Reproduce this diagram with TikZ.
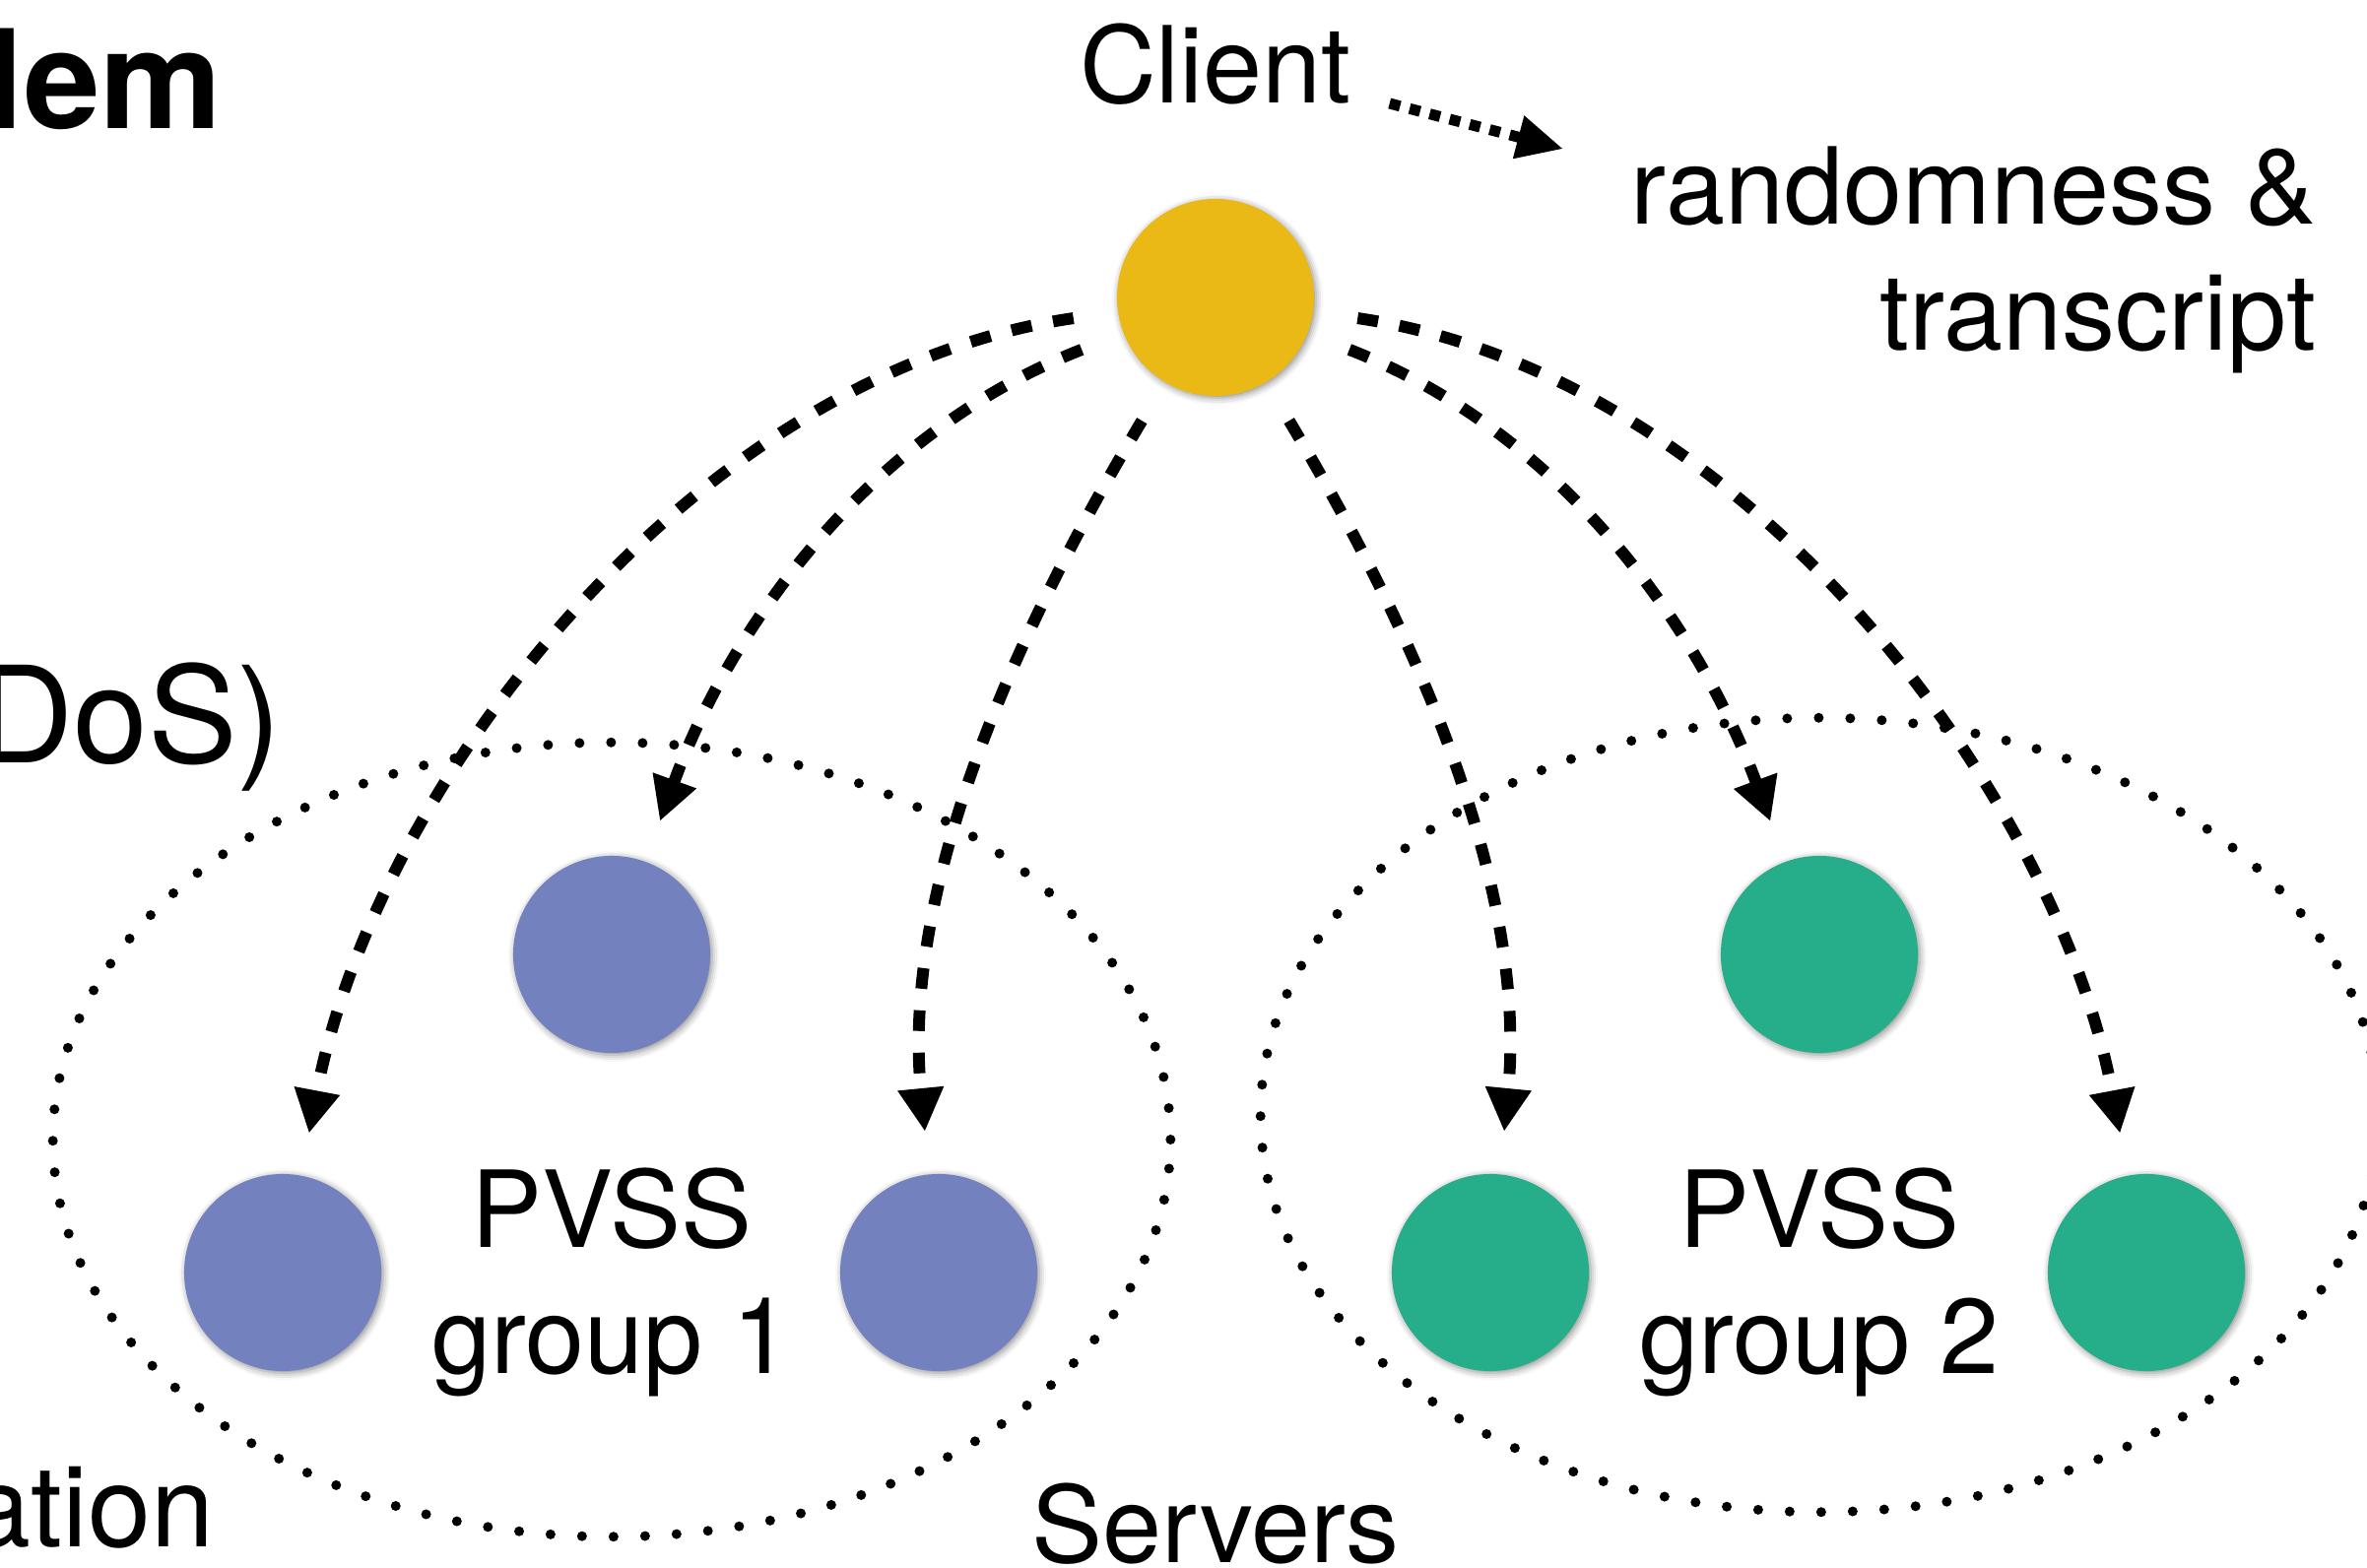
\documentclass[tikz,border=0pt]{standalone}
\usepackage{fontspec}
\setmainfont{TeX Gyre Heros}
\usetikzlibrary{arrows.meta, shapes.geometric, shadows.blur}
\definecolor{clientyellow}{RGB}{234,185,22}
\definecolor{groupblue}{RGB}{115,130,190}
\definecolor{groupgreen}{RGB}{38,173,137}
\tikzset{
    party/.style={circle, minimum size=2cm, inner sep=0pt,
        blur shadow={shadow xshift=0.02cm, shadow yshift=-0.02cm, shadow blur radius=0.07cm, shadow opacity=45}},
    clientdot/.style={party, fill=clientyellow},
    bluedot/.style={party, fill=groupblue},
    greendot/.style={party, fill=groupgreen},
    lbl/.style={font=\fontsize{30.7}{36.4}\selectfont, inner sep=0pt},
    groupring/.style={ellipse, draw, line width=0.1cm, dash pattern=on 0pt off 0.32cm, line cap=round,
        minimum width=11.34cm, minimum height=8.06cm, inner sep=0pt},
    share/.style={line width=0.12cm, dash pattern=on 0.21cm off 0.22cm,
        -{Triangle[length=0.44cm, width=0.44cm]}, shorten <=0.45cm, shorten >=0.43cm},
    outarrow/.style={line width=0.11cm, dash pattern=on 0.11cm off 0.10cm,
        -{Triangle[length=0.47cm, width=0.42cm]}},
}
\begin{document}
\begin{tikzpicture}[x=0.01cm, y=-0.01cm]
\useasboundingbox (0,0) rectangle (2403,1592);

% server groups
\node (ring1) [groupring] at (621,1157) {};
\node (ring2) [groupring] at (1847,1132) {};

% parties
\node (client) [clientdot] at (1234,302) {};
\node (b1) [bluedot] at (287,1292) {};
\node (b2) [bluedot] at (621,969) {};
\node (b3) [bluedot] at (953,1292) {};
\node (g1) [greendot] at (1513,1292) {};
\node (g2) [greendot] at (1847,969) {};
\node (g3) [greendot] at (2179,1292) {};

% labels
\node (clientlbl) [lbl, anchor=base] at (1234,105) {Client};
\node (outlbl) [lbl, align=right, anchor=east] at (2352,264) {randomness \&\\transcript};
\node (grp1lbl) [lbl, align=center] at (621,1302) {PVSS\\group 1};
\node (grp2lbl) [lbl, align=center] at (1847,1302) {PVSS\\group 2};
\node (serverslbl) [lbl, anchor=base] at (1234,1586) {Servers};
\node (titlelbl) [lbl, font=\fontsize{39.6}{44}\selectfont\bfseries, anchor=base east] at (226,131) {lem};
\node (doslbl) [lbl, font=\fontsize{38.7}{44}\selectfont, anchor=base east] at (287,775) {DoS)};
\node (ationlbl) [lbl, font=\fontsize{32.7}{38}\selectfont, anchor=base east] at (218,1570) {ation};

% shares sent to the servers
\draw [share] (client) .. controls (700,380) and (380,800) .. (b1);
\draw [share] (client) .. controls (880,440) and (740,640) .. (b2);
\draw [share] (client) .. controls (1080,560) and (911,863) .. (b3);
\draw [share] (client) .. controls (1388,560) and (1555,863) .. (g1);
\draw [share] (client) .. controls (1588,440) and (1726,640) .. (g2);
\draw [share] (client) .. controls (1768,380) and (2086,800) .. (g3);

\draw [outarrow] ([xshift=0.38cm]clientlbl.base east) -- ([xshift=-0.68cm, yshift=-0.03cm]outlbl.north west);

\end{tikzpicture}
\end{document}
